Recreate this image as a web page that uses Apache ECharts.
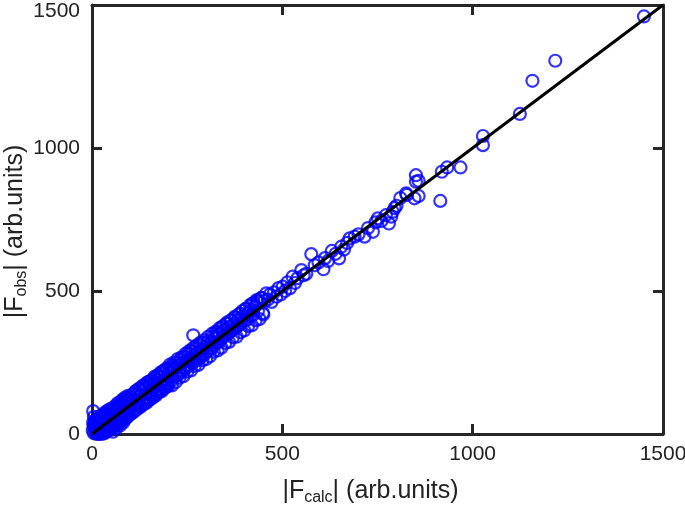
<!DOCTYPE html>
<html>
<head>
<meta charset="utf-8">
<script src="https://cdn.jsdelivr.net/npm/echarts@6/dist/echarts.min.js"></script>
<style>html,body{margin:0;padding:0;background:#fff;}#c{width:685px;height:506px;}</style>
</head>
<body>
<div id="c"></div>
<script>
// |F_calc| values (x) and |F_obs| values (y)
const fCalc = [
 2,3,4,5,5,7,8,10,11,13,15,16,18,20,21,23,25,26,28,30,32,33,35,37,38,40,42,44,45,47,49,50,52,54,55,57,59,60,62,64,66,67,69,71,73,74,76,78,80,82,83,85,87,89,90,92,94,96,98,99,
 101,103,105,107,109,111,113,115,117,119,121,123,125,127,129,131,133,135,137,139,141,143,145,147,149,151,153,155,157,159,161,163,165,167,169,171,173,175,177,179,181,183,185,187,189,191,193,195,197,199,
 202,204,206,208,211,213,215,218,220,223,225,228,230,233,235,238,240,243,245,248,250,253,255,258,260,262,265,266,268,270,273,275,278,280,283,285,288,290,293,295,298,
 302,305,308,311,314,317,320,323,326,329,332,335,338,341,344,347,350,353,356,359,362,365,368,371,374,377,380,383,386,390,393,396,400,404,408,412,416,420,424,428,432,436,440,445,449,453,458,
 462,467,472,478,484,490,496,501,507,513,520,527,533,540,550,556,563,576,585,595,608,612,620,630,640,649,655,662,670,677,690,700,716,725,738,745,751,760,772,780,786,790,795,800,810,825,827,847,851,851,858,858,915,919,933,968,1027,1027,1124,1157,1217,1450,
 3,6,9,12,14,17,19,22,24,27,29,31,34,36,39,41,43,46,48,51,53,56,58,61,63,65,68,70,72,75,77,79,81,84,86,88,91,93,95,97,100,104,108,112,116,120,124,128,132,136,140,144,148,152,156,160,164,168,172,176,180,184,188,192,196,200,
 205,210,215,220,225,230,235,240,245,250,255,260,265,270,275,280,285,290,295,300,305,310,315,320,325,330,335,340,345,350,355,360,365,370,375,380,385,390,395,400,405,410,415,420,425,430,435,440,445,450
];
const fObs = [
 12,80,30,3,60,22,40,6,28,48,14,35,2,42,20,55,10,38,25,58,12,45,30,62,18,50,28,70,22,55,40,75,25,60,8,48,80,35,65,20,85,50,38,90,62,30,95,55,72,40,100,68,52,110,78,60,112,85,70,118,
 95,130,75,118,140,100,88,150,120,102,140,110,160,98,135,150,118,170,125,108,160,140,180,130,120,170,148,185,140,128,175,160,195,150,140,190,168,205,158,150,200,180,215,168,160,210,190,225,178,170,
 215,195,230,185,220,240,200,232,210,250,205,240,222,258,215,248,232,270,228,255,240,280,238,262,250,290,248,345,275,262,300,258,285,270,312,268,295,280,320,278,305,
 290,325,300,318,298,340,310,335,318,355,322,348,330,372,338,362,345,385,350,372,358,395,362,382,368,408,375,398,380,420,388,410,398,438,400,425,412,455,418,445,468,430,460,475,423,465,492,
 470,488,462,495,480,510,488,515,500,530,510,550,528,545,573,555,560,629,590,600,576,615,605,640,630,614,655,645,668,684,690,698,690,720,707,740,754,745,765,736,760,777,790,798,825,841,836,824,882,905,885,832,815,917,932,932,1042,1010,1119,1235,1305,1460,
 40,35,48,0,45,58,0,52,64,0,60,72,4,66,80,10,73,86,16,80,90,24,88,98,30,94,108,38,100,112,45,110,121,52,115,128,58,122,133,65,132,72,140,80,150,88,158,95,165,104,172,110,182,120,188,128,200,135,205,146,215,150,222,162,230,168,
 243,170,250,182,262,197,268,202,280,218,290,222,300,238,310,242,320,258,328,262,340,272,350,288,358,292,370,302,378,318,390,322,398,338,410,340,418,356,430,362,438,378,450,380,458,398,466,402,476,418
];
const xTicks = [0, 500, 1000, 1500];
const yTicks = [0, 500, 1000, 1500];

const pts = fCalc.map((v, i) => [v, fObs[i]]);
const axisColor = '#262626';
const font = 'Liberation Sans, Arial, Helvetica, sans-serif';
const richName = {
  a: {fontSize: 25, lineHeight: 30, color: '#222', fontFamily: font},
  s: {fontSize: 16, lineHeight: 16, verticalAlign: 'bottom', color: '#222', fontFamily: font}
};
function baseAxis(pos, ticks) {
  return {
    type: 'value', position: pos,
    min: ticks[0], max: ticks[ticks.length - 1], interval: ticks[1] - ticks[0],
    axisLine: {show: true, onZero: false, lineStyle: {color: axisColor, width: 3}},
    axisTick: {show: true, inside: true, length: 10, lineStyle: {color: axisColor, width: 3}},
    splitLine: {show: false},
    axisLabel: {show: false}
  };
}
const xMain = Object.assign(baseAxis('bottom', xTicks), {
  axisLabel: {show: true, fontSize: 21, color: '#222', margin: 10, fontFamily: font,
    formatter: v => String(v)},
  name: '{a||F}{s|calc}{a|| (arb.units)}', nameLocation: 'middle', nameGap: 42,
  nameMoveOverlap: false,
  nameTextStyle: {rich: richName, padding: [0, 14, 0, 0]}
});
const yMain = Object.assign(baseAxis('left', yTicks), {
  axisLabel: {show: true, fontSize: 21, color: '#222', margin: 12, fontFamily: font,
    formatter: v => v === 1500 ? '{t|1500}' : String(v),
    rich: {t: {fontSize: 21, color: '#222', fontFamily: font, padding: [12, 0, 0, 0]}}},
  name: '{a||F}{s|obs}{a|| (arb.units)}', nameLocation: 'middle', nameGap: 62,
  nameMoveOverlap: false,
  nameTextStyle: {rich: richName, padding: [0, 24, 0, 0]}
});
const chart = echarts.init(document.getElementById('c'));
chart.setOption({
  animation: false,
  backgroundColor: '#fff',
  grid: {left: 92, right: 22, top: 5, bottom: 72, containLabel: false, outerBoundsMode: 'none'},
  xAxis: [xMain, baseAxis('top', xTicks)],
  yAxis: [yMain, baseAxis('right', yTicks)],
  series: [
    {type: 'scatter', xAxisIndex: 0, yAxisIndex: 0, data: pts, symbol: 'circle', symbolSize: 12,
     itemStyle: {color: 'rgba(0,0,0,0)', borderColor: '#0000ff', borderWidth: 2.2}, z: 2},
    {type: 'line', xAxisIndex: 0, yAxisIndex: 0, data: [[0, 0], [1500, 1500]], showSymbol: false,
     lineStyle: {color: '#000', width: 3}, z: 3}
  ]
});
</script>
</body>
</html>
